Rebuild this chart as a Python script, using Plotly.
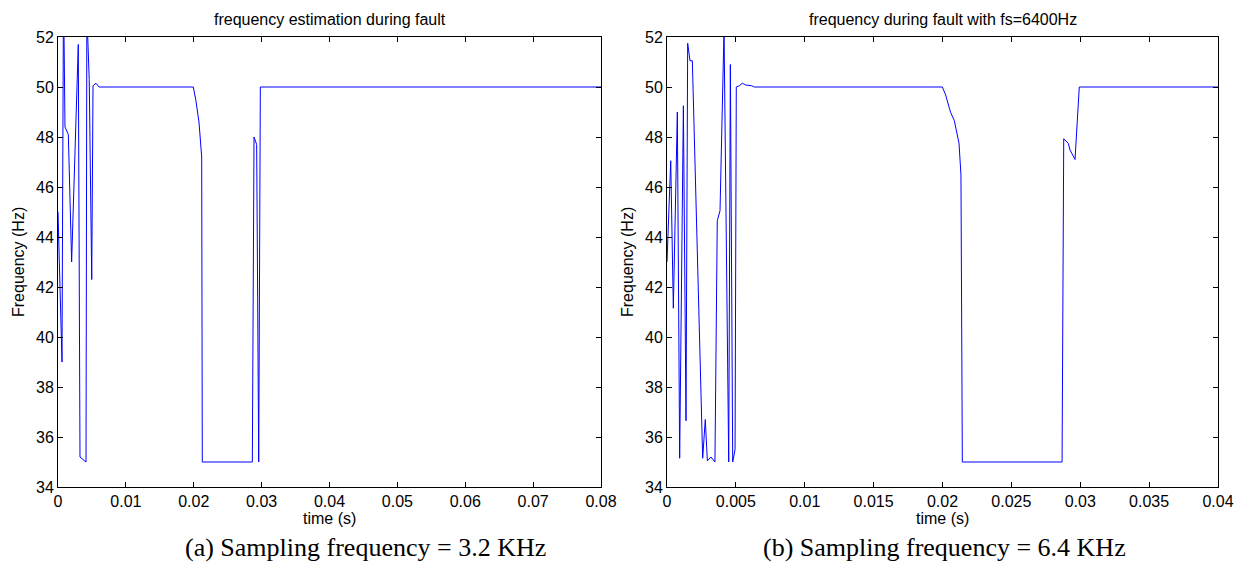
import plotly.graph_objects as go

# ---------------- data ----------------
# (a) fs = 3.2 kHz
left_t = [0.0, 0.00059, 0.00081, 0.00103, 0.00152, 0.00201, 0.00299, 0.00324,
          0.00413, 0.00425, 0.00460, 0.00497, 0.00516, 0.00560, 0.00605,
          0.01993, 0.02029, 0.02077, 0.02117, 0.02126, 0.02863, 0.02888,
          0.02927, 0.02957, 0.02981, 0.08]
left_f = [45.0, 39.0, 54.0, 48.4, 48.1, 43.0, 51.7, 35.2,
          35.0, 53.0, 50.3, 42.3, 50.05, 50.15, 50.0,
          50.0, 49.5, 48.6, 47.2, 35.0, 35.0, 48.0,
          47.7, 35.0, 50.0, 50.0]

# (b) fs = 6.4 kHz
right_t = [0.0, 0.00027, 0.00046, 0.00075, 0.00092, 0.00119, 0.00138, 0.00150,
           0.00167, 0.00184, 0.00259, 0.00278, 0.00293, 0.00319, 0.00348,
           0.00365, 0.00385, 0.00414, 0.00448, 0.00460, 0.00477, 0.00494,
           0.00503, 0.00525, 0.00547, 0.00571, 0.00615, 0.00634,
           0.01999, 0.02023, 0.02050, 0.02060, 0.02086, 0.02103, 0.02120,
           0.02134, 0.02144, 0.02868, 0.02880, 0.02913, 0.02926, 0.02962,
           0.02993, 0.04]
right_f = [43.0, 47.05, 41.15, 49.0, 35.15, 49.25, 36.65, 51.75,
           51.05, 51.05, 35.15, 36.7, 35.05, 35.2, 35.0,
           44.65, 45.05, 52.3, 35.0, 50.9, 35.0, 35.5,
           50.0, 50.05, 50.15, 50.08, 50.05, 50.0,
           50.0, 49.68, 49.15, 48.97, 48.65, 48.2, 47.75,
           46.48, 35.0, 35.0, 47.93, 47.75, 47.48, 47.1,
           50.0, 50.0]

y_ticks = [34, 36, 38, 40, 42, 44, 46, 48, 50, 52]
left_xticks = [0, 0.01, 0.02, 0.03, 0.04, 0.05, 0.06, 0.07, 0.08]
left_xlabels = ["0", "0.01", "0.02", "0.03", "0.04", "0.05", "0.06", "0.07", "0.08"]
right_xticks = [0, 0.005, 0.01, 0.015, 0.02, 0.025, 0.03, 0.035, 0.04]
right_xlabels = ["0", "0.005", "0.01", "0.015", "0.02", "0.025", "0.03", "0.035", "0.04"]

titles = ["frequency estimation during fault", "frequency during fault with fs=6400Hz"]
captions = ["(a) Sampling frequency = 3.2 KHz", "(b) Sampling frequency = 6.4 KHz"]
x_title = "time (s)"
y_title = "Frequency (Hz)"

# ---------------- layout geometry ----------------
W, H = 1242, 580
LX0, LX1 = 58, 601
RX0, RX1 = 667, 1218
YT, YB = 37, 487


def px(x):
    return x / W


def py(y):
    return 1 - y / H


SANS = "Liberation Sans, Arial, sans-serif"
SERIF = "Liberation Serif, Times New Roman, serif"
FS = 16

fig = go.Figure()
fig.add_trace(go.Scatter(x=left_t, y=left_f, mode="lines",
                         line=dict(color="#0000ff", width=1),
                         xaxis="x", yaxis="y", showlegend=False))
fig.add_trace(go.Scatter(x=right_t, y=right_f, mode="lines",
                         line=dict(color="#0000ff", width=1),
                         xaxis="x2", yaxis="y2", showlegend=False))

axis_common = dict(showline=True, linecolor="black", linewidth=1, mirror="allticks",
                   ticks="inside", ticklen=5, tickcolor="black", tickwidth=1,
                   showgrid=False, zeroline=False, automargin=False,
                   tickfont=dict(family=SANS, size=FS, color="black"))

fig.update_layout(
    width=W, height=H, autosize=False,
    margin=dict(l=0, r=0, t=0, b=0),
    paper_bgcolor="white", plot_bgcolor="white",
    template="none",
    showlegend=False,
    xaxis=dict(domain=[px(LX0), px(LX1)], range=[0, 0.08],
               tickvals=left_xticks, ticktext=left_xlabels, anchor="y", **axis_common),
    yaxis=dict(domain=[py(YB), py(YT)], range=[34, 52],
               tickvals=y_ticks, ticktext=[str(v) for v in y_ticks], anchor="x", **axis_common),
    xaxis2=dict(domain=[px(RX0), px(RX1)], range=[0, 0.04],
                tickvals=right_xticks, ticktext=right_xlabels, anchor="y2", **axis_common),
    yaxis2=dict(domain=[py(YB), py(YT)], range=[34, 52],
                tickvals=y_ticks, ticktext=[str(v) for v in y_ticks], anchor="x2", **axis_common),
)

ann = []
for (x0, x1), title, cap, ylab_x, cap_x in [((LX0, LX1), titles[0], captions[0], 18, 366),
                                            ((RX0, RX1), titles[1], captions[1], 627, 944)]:
    cx = (x0 + x1) / 2
    ann.append(dict(text=title, x=px(cx), y=py(20), xref="paper", yref="paper",
                    xanchor="center", yanchor="middle", showarrow=False,
                    font=dict(family=SANS, size=FS, color="black")))
    ann.append(dict(text=x_title, x=px(cx), y=py(518), xref="paper", yref="paper",
                    xanchor="center", yanchor="middle", showarrow=False,
                    font=dict(family=SANS, size=FS, color="black")))
    ann.append(dict(text=y_title, x=px(ylab_x), y=py((YT + YB) / 2), xref="paper", yref="paper",
                    xanchor="center", yanchor="middle", showarrow=False, textangle=-90,
                    font=dict(family=SANS, size=FS, color="black")))
    ann.append(dict(text=cap, x=px(cap_x), y=py(547), xref="paper", yref="paper",
                    xanchor="center", yanchor="middle", showarrow=False,
                    font=dict(family=SERIF, size=26, color="black")))
fig.update_layout(annotations=ann)

fig.write_html("out.html")
